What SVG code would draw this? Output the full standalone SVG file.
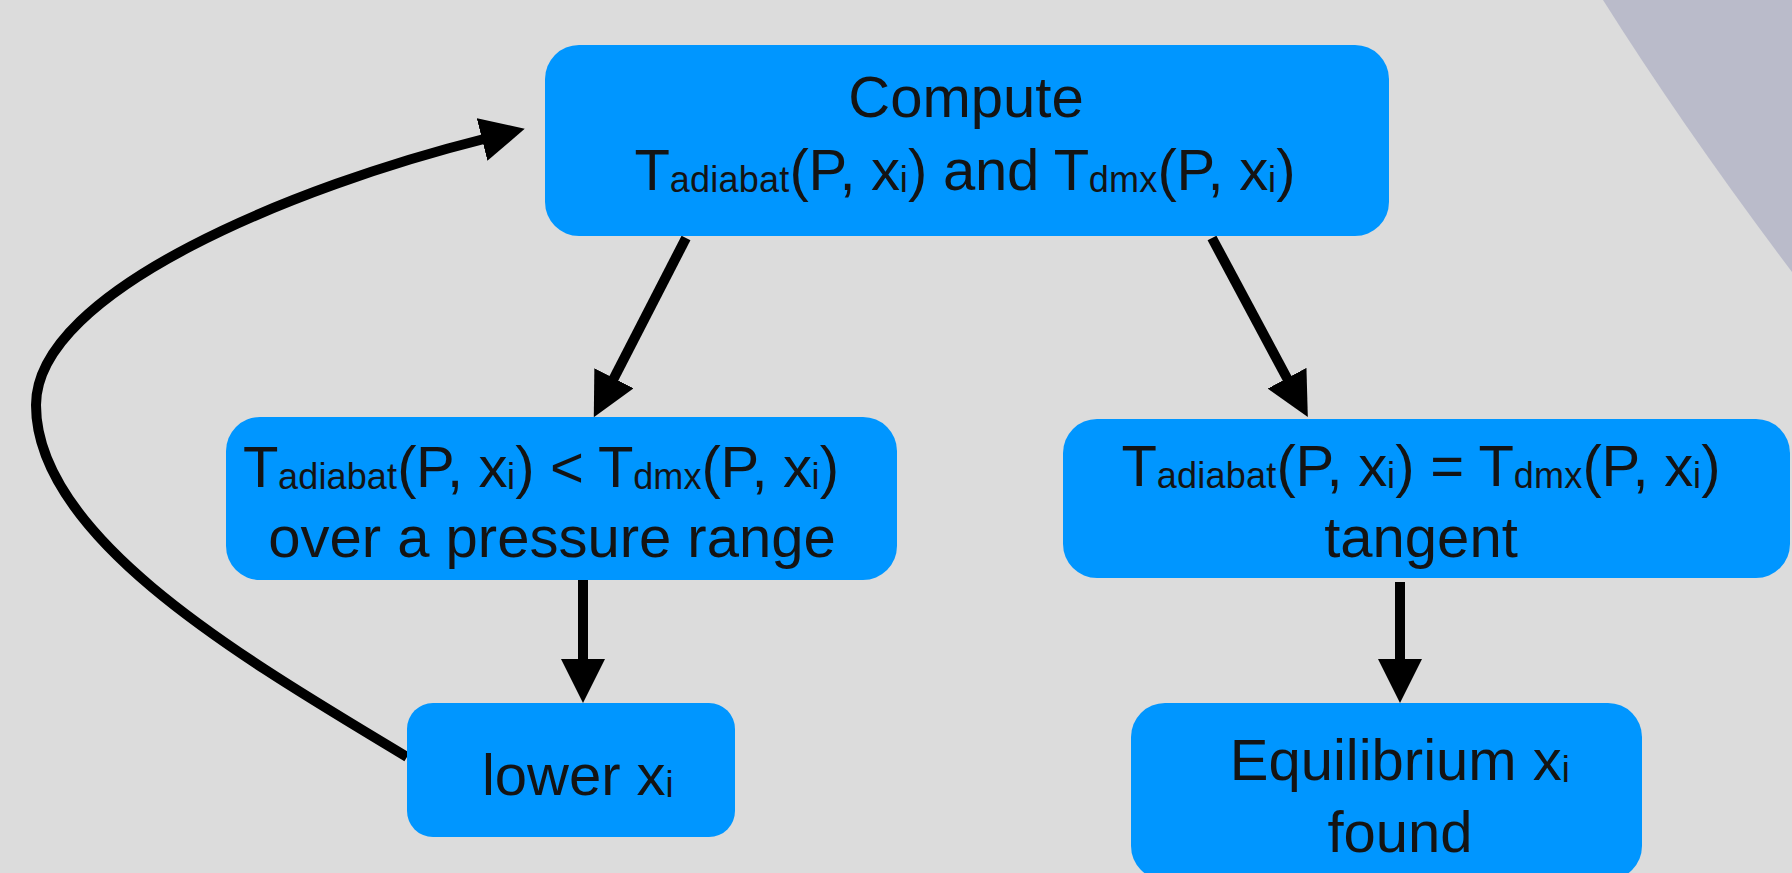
<svg xmlns="http://www.w3.org/2000/svg" width="1792" height="873" viewBox="0 0 1792 873">
  <defs>
    <style>
      .node rect { fill: #0096ff; }
      .label { font-family: "Liberation Sans", Arial, Helvetica, sans-serif; font-size: 58px; fill: #141414; text-anchor: middle; }
      .sub { font-size: 36px; letter-spacing: 0.5px; }
      .edge { fill: none; stroke: #000; stroke-width: 10; }
    </style>
    <marker id="arrow" markerUnits="userSpaceOnUse" markerWidth="46" markerHeight="46" refX="2" refY="22" orient="auto" viewBox="0 0 46 46">
      <path d="M0,0 L44,22 L0,44 Z" fill="#000"/>
    </marker>
  </defs>

  <!-- backdrop -->
  <rect x="0" y="0" width="1792" height="873" fill="#dcdcdc"/>
  <path d="M1603,0 Q1685,130 1792,272 L1792,0 Z" fill="#babbca"/>

  <!-- connectors -->
  <g id="connectors">
    <path class="edge" d="M686,238 L613,380" marker-end="url(#arrow)"/>
    <path class="edge" d="M1212,238 L1288,380" marker-end="url(#arrow)"/>
    <path class="edge" d="M583,580 L583,661" marker-end="url(#arrow)"/>
    <path class="edge" d="M1400,582 L1400,661" marker-end="url(#arrow)"/>
    <path class="edge" d="M407,757 C250,662 36,540 36,405 C36,290 300,185 484,139" marker-end="url(#arrow)"/>
  </g>

  <!-- compute step -->
  <g id="node-compute" class="node">
    <rect x="545" y="45" width="844" height="191" rx="34"/>
    <text class="label" x="966" y="117">Compute</text>
    <text class="label" x="965" y="190" textLength="661" lengthAdjust="spacing">T<tspan class="sub" dy="2">adiabat</tspan><tspan dy="-2">(P, x</tspan><tspan class="sub" dy="2">i</tspan><tspan dy="-2">) and T</tspan><tspan class="sub" dy="2">dmx</tspan><tspan dy="-2">(P, x</tspan><tspan class="sub" dy="2">i</tspan><tspan dy="-2">)</tspan></text>
  </g>

  <!-- below dew point over a range -->
  <g id="node-below" class="node">
    <rect x="226" y="417" width="671" height="163" rx="34"/>
    <text class="label" x="541" y="487" textLength="596" lengthAdjust="spacing">T<tspan class="sub" dy="2">adiabat</tspan><tspan dy="-2">(P, x</tspan><tspan class="sub" dy="2">i</tspan><tspan dy="-2">) &lt; T</tspan><tspan class="sub" dy="2">dmx</tspan><tspan dy="-2">(P, x</tspan><tspan class="sub" dy="2">i</tspan><tspan dy="-2">)</tspan></text>
    <text class="label" x="552" y="557">over a pressure range</text>
  </g>

  <!-- tangent case -->
  <g id="node-tangent" class="node">
    <rect x="1063" y="419" width="727" height="159" rx="34"/>
    <text class="label" x="1421" y="486" textLength="599" lengthAdjust="spacing">T<tspan class="sub" dy="2">adiabat</tspan><tspan dy="-2">(P, x</tspan><tspan class="sub" dy="2">i</tspan><tspan dy="-2">) = T</tspan><tspan class="sub" dy="2">dmx</tspan><tspan dy="-2">(P, x</tspan><tspan class="sub" dy="2">i</tspan><tspan dy="-2">)</tspan></text>
    <text class="label" x="1421" y="557">tangent</text>
  </g>

  <!-- lower the mole fraction -->
  <g id="node-lower" class="node">
    <rect x="407" y="703" width="328" height="134" rx="26"/>
    <text class="label" x="578" y="795">lower x<tspan class="sub" dy="2">i</tspan></text>
  </g>

  <!-- result -->
  <g id="node-found" class="node">
    <rect x="1131" y="703" width="511" height="177" rx="34"/>
    <text class="label" x="1400" y="780">Equilibrium x<tspan class="sub" dy="2">i</tspan></text>
    <text class="label" x="1400" y="852">found</text>
  </g>
</svg>
